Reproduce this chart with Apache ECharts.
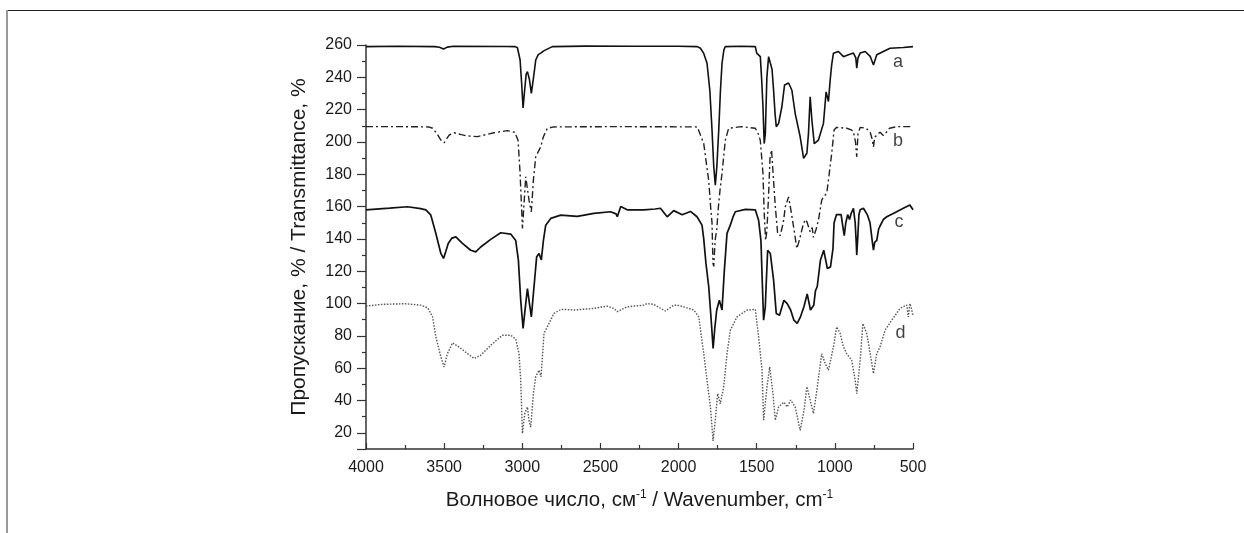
<!DOCTYPE html>
<html><head><meta charset="utf-8">
<script src="https://cdn.jsdelivr.net/npm/echarts@6/dist/echarts.min.js"></script>
<style>html,body{margin:0;padding:0;background:#fff}#c{width:1244px;height:533px}</style>
</head><body><div id="c"></div>
<script>
// Wavenumber (cm^-1) / transmittance (%) pairs
const seriesA = [[4000,259],[3800,259.2],[3560,259],[3530,258.6],[3504,257.5],[3480,258.7],[3440,259.2],[3100,259.1],[3045,259],[3031,258.3],[3014,250.7],[3004,236],[2995,221],[2985,232],[2975,242],[2967,243.5],[2955,239],[2942,230],[2928,240],[2914,250.7],[2898,254],[2882,255],[2860,256.5],[2808,259],[2600,259.3],[2300,259.2],[2000,259.2],[1880,259],[1860,258],[1840,255],[1818,248.7],[1800,232],[1786,207.4],[1775,185],[1765,173.3],[1755,185],[1743,207.4],[1732,232],[1722,248.7],[1710,257],[1701,259],[1600,259.2],[1509,259],[1500,255],[1490,253.8],[1477,252.8],[1468,238],[1460,221.8],[1452,199],[1445,205],[1435,240],[1424,252.8],[1413,254],[1402,245],[1392,232],[1383,218],[1375,209.4],[1360,211.5],[1339,221.8],[1322,235.2],[1296,236.5],[1275,232],[1254,217.7],[1222,203.2],[1200,189.8],[1189,191],[1179,193],[1169,205],[1158,228],[1147,213.6],[1132,199],[1120,199.5],[1105,201.2],[1073,211.5],[1056,231],[1041,225],[1030,238.3],[1020,248],[1009,254.9],[977,256],[945,252.8],[913,254],[881,255],[866,252],[860,245.6],[852,252],[838,255],[806,256],[774,253],[753,247.6],[732,254],[690,256],[647,258],[562,258.5],[500,259]];
const seriesB = [[4000,209.5],[3800,209.5],[3600,209.3],[3574,208.5],[3545,205],[3521,201.2],[3500,199.5],[3468,204.3],[3436,205.7],[3390,204.5],[3350,203.7],[3287,203.3],[3181,205.7],[3095,207],[3048,206],[3027,201],[3014,180.6],[3005,160],[2999,146.5],[2990,160],[2978,178.5],[2968,179],[2957,164],[2942,156.8],[2929,176.4],[2914,190.8],[2882,197],[2865,203.2],[2840,208.4],[2800,209.3],[2400,209.5],[1880,209.3],[1871,208.5],[1839,199],[1807,176],[1795,160],[1786,150],[1780,125],[1775,123],[1770,132],[1765,140],[1756,145.5],[1745,160],[1735,170],[1722,180.6],[1701,201],[1680,208.4],[1600,209.5],[1509,208.5],[1490,205],[1477,201],[1460,180.6],[1452,155.8],[1443,139],[1435,145],[1425,165],[1415,190],[1405,195],[1395,180],[1381,160],[1366,143.4],[1350,142],[1330,150],[1317,160],[1296,166],[1285,160],[1264,147.5],[1243,134],[1225,140],[1205,148],[1190,152],[1179,150.6],[1158,144.4],[1145,147],[1137,141],[1120,146],[1105,151.6],[1084,164],[1073,166],[1052,168.2],[1041,176.4],[1020,193],[1005,207.4],[990,209],[924,208.5],[895,207.5],[881,206.3],[868,200],[860,190.8],[852,205],[838,209],[800,208.5],[774,206],[762,202],[753,197],[745,203],[711,206],[690,204],[670,206],[650,208.5],[600,209.5],[500,209.5]];
const seriesC = [[4000,158],[3850,159],[3734,159.9],[3650,158.7],[3617,158],[3585,154.7],[3553,143.4],[3521,131],[3504,127.9],[3490,132],[3474,137.2],[3450,140.5],[3425,141.3],[3383,137.2],[3330,133],[3298,132],[3266,135],[3202,139.7],[3138,143.8],[3074,143],[3042,139],[3025,126.9],[3010,102],[2995,84.6],[2978,100],[2967,109.3],[2957,102],[2942,91.8],[2925,110.4],[2908,129],[2893,131],[2878,127],[2865,139],[2850,148.5],[2818,152.7],[2754,154.7],[2648,154],[2542,155.8],[2435,156.8],[2400,155.5],[2392,153.7],[2370,160],[2329,158],[2222,158],[2150,158.5],[2116,159],[2073,153.7],[2031,157.5],[1977,155],[1924,157],[1882,153.7],[1850,148.5],[1839,140],[1825,125],[1807,110.4],[1790,88],[1779,72.2],[1768,85],[1756,96],[1739,102],[1722,96],[1707,120.7],[1690,143.4],[1669,148.5],[1650,154],[1637,156.8],[1573,158.3],[1509,158],[1488,151.6],[1473,139],[1465,115],[1456,89.7],[1445,98],[1438,115],[1430,133],[1413,131],[1392,114.5],[1375,93.9],[1354,92.8],[1326,102],[1305,100],[1283,96],[1262,89.7],[1241,87.7],[1220,91.8],[1198,98],[1177,106],[1156,96],[1135,99],[1124,108],[1113,110.4],[1092,127],[1071,133],[1048,121.7],[1028,122.7],[1012,134],[1005,150],[990,155],[977,155],[960,155],[948,147],[940,142],[930,150],[918,155],[906,152],[895,156],[881,158.9],[870,150],[864,139],[860,130],[854,140],[846,155],[838,158],[817,159],[791,154.7],[775,150],[760,138],[753,133],[745,138],[732,139],[720,146],[711,148],[690,152],[668,153.7],[626,155.8],[562,159],[520,161],[500,158]];
const seriesD = [[4000,98.4],[3900,99.5],[3750,99.9],[3650,99],[3606,97.4],[3574,91.8],[3553,79.4],[3521,67],[3500,60.8],[3479,69],[3446,75.7],[3404,73],[3350,69],[3308,66],[3266,68],[3202,74.2],[3127,80.4],[3074,80.4],[3042,78],[3021,69],[3010,52.6],[2999,19.6],[2984,32],[2967,36],[2957,27.8],[2946,23.5],[2929,44.3],[2914,54.7],[2893,58.8],[2880,54.7],[2861,81.5],[2840,85.6],[2797,93.9],[2754,96.3],[2733,96.4],[2669,96],[2542,97],[2456,98.4],[2414,97],[2392,95],[2329,98],[2222,99],[2201,100],[2158,99.5],[2084,95.4],[2073,96],[2031,99],[2009,99],[1967,98],[1903,96],[1871,91.8],[1839,69],[1818,52.6],[1796,36],[1779,15],[1765,27.8],[1750,44.3],[1733,38],[1711,48.6],[1690,69],[1669,83.5],[1626,91.8],[1562,96],[1509,96.4],[1488,79.4],[1466,58.8],[1456,27.8],[1434,48.6],[1417,60.8],[1396,44.3],[1381,27.8],[1360,36],[1326,39],[1305,36],[1283,40.3],[1254,36],[1222,21.6],[1197,34],[1179,48.6],[1158,40.3],[1137,32],[1115,46.5],[1084,69],[1062,62.9],[1041,58.8],[1009,73.2],[988,85.6],[966,81.5],[945,73.2],[924,69],[892,65],[870,52.6],[860,44.3],[838,65],[821,87.6],[796,81.5],[774,69],[753,56.7],[732,69],[711,73.2],[679,83.5],[636,89.7],[583,97],[540,99.1],[530,91.8],[520,100],[510,97],[500,92]];
// curve labels
const labelNames = ['a','b','c','d'];
const labelWn = [596, 596, 590, 580];
const labelT = [249.5, 200.5, 150.5, 81.5];
// axes
const xMin = 500, xMax = 4000, xStep = 500;
const yMin = 10, yMax = 260, yStep = 20;
const xTitle = 'Волновое число, см';
const xTitle2 = ' / Wavenumber, cm';
const yTitle = 'Пропускание, % / Transmittance, %';

const FONT = 'Liberation Sans, Arial, sans-serif';
const INK = '#1a1a1a';
const chart = echarts.init(document.getElementById('c'));
const lineSeries = (data, dash, color, width) => ({
  type: 'line', data, showSymbol: false, symbol: 'none', animation: false,
  lineStyle: { color, width, type: dash }, z: 3
});
chart.setOption({
  animation: false,
  backgroundColor: '#fff',
  grid: { left: 366, right: 331, top: 45, bottom: 84 },
  xAxis: {
    type: 'value', min: xMin, max: xMax, interval: xStep, inverse: true,
    name: xTitle + '{s|-1}' + xTitle2 + '{s|-1}', nameLocation: 'middle', nameGap: 40,
    nameTextStyle: { fontFamily: FONT, fontSize: 20.5, color: INK,
      rich: { s: { fontSize: 12, verticalAlign: 'top', padding: [0, 0, 10, 0], fontFamily: FONT, color: INK } } },
    axisLine: { lineStyle: { color: '#333', width: 1.5 } },
    axisTick: { inside: true, length: 6, lineStyle: { color: '#333', width: 1.2 } },
    minorTick: { show: true, splitNumber: 2, length: 4, lineStyle: { color: '#333', width: 1.2 } },
    axisLabel: { fontFamily: FONT, fontSize: 16, color: INK, margin: 11, formatter: v => String(v) },
    splitLine: { show: false }
  },
  yAxis: {
    type: 'value', min: yMin, max: yMax, minInterval: yStep, maxInterval: yStep,
    name: yTitle, nameLocation: 'middle', nameGap: 56,
    nameTextStyle: { fontFamily: FONT, fontSize: 21, color: INK },
    axisLine: { lineStyle: { color: '#333', width: 1.5 } },
    axisTick: { inside: false, length: 9, lineStyle: { color: '#333', width: 1.2 } },
    minorTick: { show: true, splitNumber: 2, length: 4, lineStyle: { color: '#333', width: 1.2 } },
    axisLabel: { fontFamily: FONT, fontSize: 16, color: INK, margin: 14,
      formatter: v => (v % yStep === 0 ? String(v) : '') },
    splitLine: { show: false }
  },
  graphic: [
    { type: 'line', shape: { x1: 6, y1: 10.5, x2: 1244, y2: 10.5 }, style: { stroke: '#222', lineWidth: 1.2 } },
    { type: 'line', shape: { x1: 7, y1: 10, x2: 7, y2: 533 }, style: { stroke: '#999', lineWidth: 2 } }
  ],
  series: [
    lineSeries(seriesA, 'solid', '#111', 1.6),
    lineSeries(seriesB, [7, 3, 2, 3], '#222', 1.4),
    lineSeries(seriesC, 'solid', '#111', 1.7),
    lineSeries(seriesD, [1.5, 1.5], '#555', 1.4),
    {
      type: 'scatter', symbolSize: 0, silent: true, animation: false,
      data: labelNames.map((n, i) => ({ value: [labelWn[i], labelT[i]], name: n })),
      label: { show: true, position: 'inside', formatter: p => p.name, fontFamily: FONT, fontSize: 18, color: '#111' }
    }
  ]
});
</script></body></html>
